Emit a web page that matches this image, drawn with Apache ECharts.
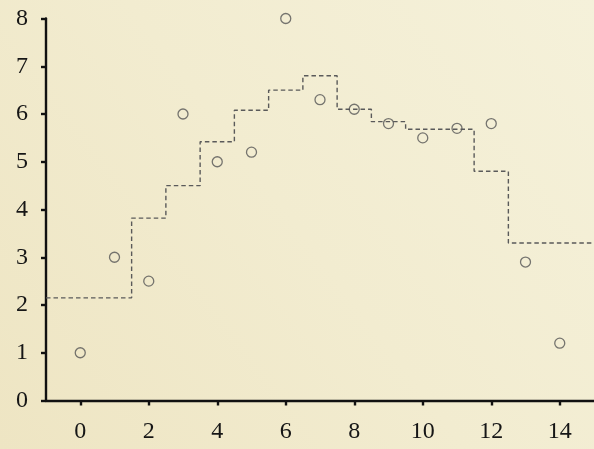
<!DOCTYPE html>
<html>
<head>
<meta charset="utf-8">
<script src="https://cdn.jsdelivr.net/npm/echarts@6/dist/echarts.min.js"></script>
<style>
  html, body { margin: 0; padding: 0; background: #f2ecd0; }
  #chart { width: 594px; height: 449px; }
</style>
</head>
<body>
<div id="chart"></div>
<script>
// Observed points
const pointX = [0, 1, 2, 3, 4, 5, 6, 7, 8, 9, 10, 11, 12, 13, 14];
const pointY = [1.0, 3.0, 2.5, 6.0, 5.0, 5.2, 8.0, 6.3, 6.1, 5.8, 5.5, 5.7, 5.8, 2.9, 1.2];

// Fitted step curve: each level starts at the matching edge
const stepEdges  = [-1, 1.5, 2.5, 3.5, 4.5, 5.5, 6.5, 7.5, 8.5, 9.5, 11.5, 12.5, 15];
const stepLevels = [2.15, 3.82, 4.5, 5.42, 6.08, 6.5, 6.8, 6.1, 5.84, 5.68, 4.8, 3.3, 3.3];

// Axis ticks
const xTicks = [0, 2, 4, 6, 8, 10, 12, 14];
const yTicks = [0, 1, 2, 3, 4, 5, 6, 7, 8];

const chart = echarts.init(document.getElementById('chart'), null, { renderer: 'canvas' });

const labelFont = {
  fontFamily: '"Liberation Serif", "DejaVu Serif", serif',
  fontSize: 24,
  color: '#161616'
};

// Warm paper tone, slightly lighter towards the upper right
const paper = new echarts.graphic.LinearGradient(0, 1, 1, 0, [
  { offset: 0, color: '#eee5c3' },
  { offset: 0.5, color: '#f2ecd0' },
  { offset: 1, color: '#f5f1da' }
]);

chart.setOption({
  backgroundColor: paper,
  animation: false,
  grid: { left: 46, right: -1, top: 18.5, bottom: 48.5 },
  xAxis: {
    type: 'value',
    min: -1,
    max: 15,
    splitLine: { show: false },
    axisLine: { show: true, onZero: false, lineStyle: { color: '#111', width: 2.4 } },
    axisTick: { show: true, customValues: xTicks, length: 5, lineStyle: { color: '#111', width: 2.4 } },
    axisLabel: Object.assign({ customValues: xTicks, margin: 19 }, labelFont)
  },
  yAxis: {
    type: 'value',
    min: 0,
    max: 8,
    interval: 1,
    splitLine: { show: false },
    axisLine: { show: true, onZero: false, lineStyle: { color: '#111', width: 2.4 } },
    axisTick: { show: true, customValues: yTicks, length: 5, lineStyle: { color: '#111', width: 2.4 } },
    axisLabel: Object.assign({ customValues: yTicks, margin: 18 }, labelFont)
  },
  series: [
    {
      type: 'line',
      step: 'end',
      data: stepEdges.map((x, i) => [x, stepLevels[i]]),
      showSymbol: false,
      symbol: 'none',
      lineStyle: { color: '#5a5a5a', width: 1.4, type: [4.5, 3] },
      silent: true,
      z: 2
    },
    {
      type: 'scatter',
      data: pointX.map((x, i) => [x, pointY[i]]),
      symbol: 'circle',
      symbolSize: 10,
      itemStyle: { color: 'rgba(0,0,0,0)', borderColor: '#555', borderWidth: 1.3 },
      z: 3
    }
  ]
});
</script>
</body>
</html>
